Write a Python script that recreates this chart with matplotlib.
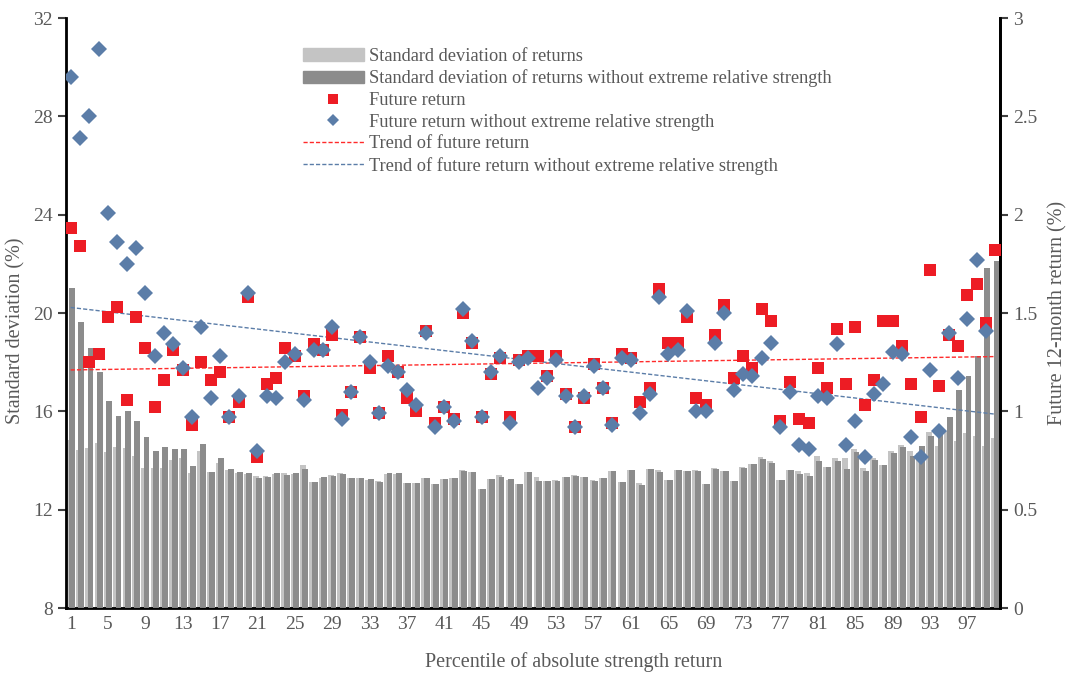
import matplotlib.pyplot as plt
import numpy as np
from matplotlib.lines import Line2D
from matplotlib.patches import Patch

# percentile buckets of absolute strength return
pct = np.arange(1, 101)

# standard deviation of returns (%), full sample and without extreme relative strength
sd_all = [14.83, 14.42, 14.49, 14.70, 14.36, 14.53, 14.49, 14.18, 13.70, 13.70,
          13.68, 14.02, 14.09, 13.50, 14.40, 13.55, 13.88, 13.60, 13.50, 13.45,
          13.35, 13.37, 13.45, 13.48, 13.45, 13.81, 13.14, 13.30, 13.42, 13.50,
          13.28, 13.27, 13.22, 13.18, 13.45, 13.47, 13.10, 13.08, 13.28, 13.05,
          13.25, 13.27, 13.62, 13.55, 12.85, 13.25, 13.40, 13.20, 13.05, 13.55,
          13.34, 13.17, 13.20, 13.33, 13.40, 13.34, 13.20, 13.28, 13.57, 13.12,
          13.62, 13.07, 13.66, 13.61, 13.20, 13.62, 13.58, 13.60, 13.06, 13.68,
          13.59, 13.16, 13.72, 13.85, 14.15, 13.98, 13.20, 13.62, 13.57, 13.48,
          14.19, 13.75, 14.09, 14.09, 14.45, 13.68, 14.09, 13.83, 14.40, 14.63,
          14.40, 14.29, 15.14, 14.60, 15.20, 14.80, 15.10, 15.00, 14.60, 14.90]
sd_excl = [21.00, 19.62, 18.59, 17.61, 16.42, 15.82, 16.01, 15.62, 14.97, 14.38,
           14.53, 14.47, 14.45, 13.79, 14.66, 13.54, 14.09, 13.65, 13.54, 13.48,
           13.30, 13.31, 13.48, 13.41, 13.48, 13.65, 13.14, 13.31, 13.38, 13.44,
           13.30, 13.27, 13.24, 13.14, 13.48, 13.48, 13.09, 13.07, 13.30, 13.03,
           13.23, 13.27, 13.58, 13.54, 12.83, 13.23, 13.34, 13.23, 13.03, 13.52,
           13.16, 13.16, 13.18, 13.31, 13.38, 13.34, 13.18, 13.27, 13.56, 13.11,
           13.61, 12.99, 13.65, 13.54, 13.19, 13.61, 13.56, 13.58, 13.05, 13.67,
           13.58, 13.15, 13.70, 13.84, 14.06, 13.91, 13.19, 13.61, 13.44, 13.37,
           13.98, 13.72, 13.99, 13.65, 14.36, 13.57, 14.02, 13.81, 14.29, 14.56,
           14.18, 14.59, 15.01, 15.20, 15.75, 16.87, 17.44, 18.26, 21.82, 22.13]

# future 12-month return (%)
ret_all = [1.93, 1.84, 1.25, 1.29, 1.48, 1.53, 1.06, 1.48, 1.32, 1.02,
           1.16, 1.31, 1.21, 0.93, 1.25, 1.16, 1.20, 0.97, 1.05, 1.58,
           0.77, 1.14, 1.17, 1.32, 1.28, 1.08, 1.34, 1.31, 1.39, 0.98,
           1.10, 1.38, 1.22, 0.99, 1.28, 1.20, 1.07, 1.00, 1.41, 0.94,
           1.02, 0.96, 1.50, 1.35, 0.97, 1.19, 1.27, 0.97, 1.26, 1.28,
           1.28, 1.18, 1.28, 1.09, 0.92, 1.07, 1.24, 1.12, 0.94, 1.29,
           1.27, 1.05, 1.12, 1.62, 1.35, 1.35, 1.48, 1.07, 1.03, 1.39,
           1.54, 1.17, 1.28, 1.22, 1.52, 1.46, 0.95, 1.15, 0.96, 0.94,
           1.22, 1.12, 1.42, 1.14, 1.43, 1.03, 1.16, 1.46, 1.46, 1.33,
           1.14, 0.97, 1.72, 1.13, 1.39, 1.33, 1.59, 1.65, 1.45, 1.82]
ret_excl = [2.70, 2.39, 2.50, 2.84, 2.01, 1.86, 1.75, 1.83, 1.60, 1.28,
            1.40, 1.34, 1.22, 0.97, 1.43, 1.07, 1.28, 0.97, 1.08, 1.60,
            0.80, 1.08, 1.07, 1.25, 1.29, 1.06, 1.31, 1.31, 1.43, 0.96,
            1.10, 1.38, 1.25, 0.99, 1.23, 1.20, 1.11, 1.03, 1.40, 0.92,
            1.02, 0.95, 1.52, 1.36, 0.97, 1.20, 1.28, 0.94, 1.25, 1.27,
            1.12, 1.17, 1.26, 1.08, 0.92, 1.08, 1.23, 1.12, 0.93, 1.27,
            1.26, 0.99, 1.09, 1.58, 1.29, 1.31, 1.51, 1.00, 1.00, 1.35,
            1.50, 1.11, 1.19, 1.18, 1.27, 1.35, 0.92, 1.10, 0.83, 0.81,
            1.08, 1.07, 1.34, 0.83, 0.95, 0.77, 1.09, 1.14, 1.30, 1.29,
            0.87, 0.77, 1.21, 0.90, 1.40, 1.17, 1.47, 1.77, 1.41, np.nan]

plt.rcParams['font.family'] = ['Liberation Serif', 'DejaVu Serif']
grey = '#595959'
red = '#ED1C24'
blue = '#5B7DA8'

fig = plt.figure(figsize=(10.68, 6.77), dpi=100)
ax = fig.add_axes([0.0618, 0.1019, 0.8745, 0.8715])

ax.bar(pct - 0.13, sd_all, width=0.62, color='#C4C4C4', zorder=2)
ax.bar(pct + 0.13, sd_excl, width=0.62, color='#8C8C8C', zorder=3)
ax.set_xlim(0.5, 100.5)
ax.set_ylim(8, 32)
ax.set_yticks(range(8, 33, 4))
ax.set_xticks(range(1, 100, 4))
ax.tick_params(axis='x', length=0, labelsize=14, labelcolor=grey, pad=6)
ax.tick_params(axis='y', length=6, width=1.5, color='#404040',
               labelsize=14, labelcolor=grey)
ax.set_ylabel('Standard deviation (%)', fontsize=14.5, color=grey)
ax.set_xlabel('Percentile of absolute strength return', fontsize=14.5,
              color=grey)
ax.yaxis.set_label_coords(-0.043, 0.47)
ax.xaxis.set_label_coords(0.543, -0.075)
ax.spines['top'].set_visible(False)
for s in ['left', 'bottom', 'right']:
    ax.spines[s].set_linewidth(2)
    ax.spines[s].set_color('black')

ax2 = ax.twinx()
ax2.set_ylim(0, 3)
ax2.set_yticks(np.arange(0, 3.01, 0.5))
ax2.set_yticklabels(['0', '0.5', '1', '1.5', '2', '2.5', '3'])
ax2.tick_params(axis='y', length=6, width=1.5, color='#404040',
                labelsize=14, labelcolor=grey)
ax2.set_ylabel('Future 12-month return (%)', fontsize=14.5, color=grey,
               labelpad=8)
ax2.spines['top'].set_visible(False)
ax2.spines['right'].set_linewidth(2)

# linear trends of both return series
ret_all_a = np.array(ret_all)
ret_excl_a = np.array(ret_excl)
ok = ~np.isnan(ret_excl_a)
fit_all = np.polyfit(pct, ret_all_a, 1)
fit_excl = np.polyfit(pct[ok], ret_excl_a[ok], 1)
ax2.plot(pct, np.polyval(fit_all, pct), color='#FF2A2A', lw=1,
         ls=(0, (3, 1.5)), zorder=3)
ax2.plot(pct, np.polyval(fit_excl, pct), color=blue, lw=1,
         ls=(0, (3, 1.5)), zorder=3)

ax2.plot(pct, ret_all, 's', color=red, ms=8.6, mew=0, zorder=4)
ax2.plot(pct, ret_excl, 'D', color=blue, ms=8.3, mew=0, zorder=5)

handles = [
    Patch(color='#C4C4C4'),
    Patch(color='#8C8C8C'),
    Line2D([], [], ls='', marker='s', color=red, ms=7.5, mew=0),
    Line2D([], [], ls='', marker='D', color=blue, ms=6, mew=0),
    Line2D([], [], color='#FF2A2A', lw=1, ls=(0, (3, 1.5))),
    Line2D([], [], color=blue, lw=1, ls=(0, (3, 1.5))),
]
labels = ['Standard deviation of returns',
          'Standard deviation of returns without extreme relative strength',
          'Future return',
          'Future return without extreme relative strength',
          'Trend of future return',
          'Trend of future return without extreme relative strength']
leg = fig.legend(handles, labels, loc='upper left',
                 bbox_to_anchor=(303 / 1068, 1 - 48 / 677),
                 frameon=False, fontsize=13.2, handlelength=3.3,
                 handleheight=0.65, handletextpad=0.3, labelspacing=0.25,
                 borderpad=0, borderaxespad=0, numpoints=1)
for t in leg.get_texts():
    t.set_color(grey)

fig.savefig('out.png', dpi=100)
